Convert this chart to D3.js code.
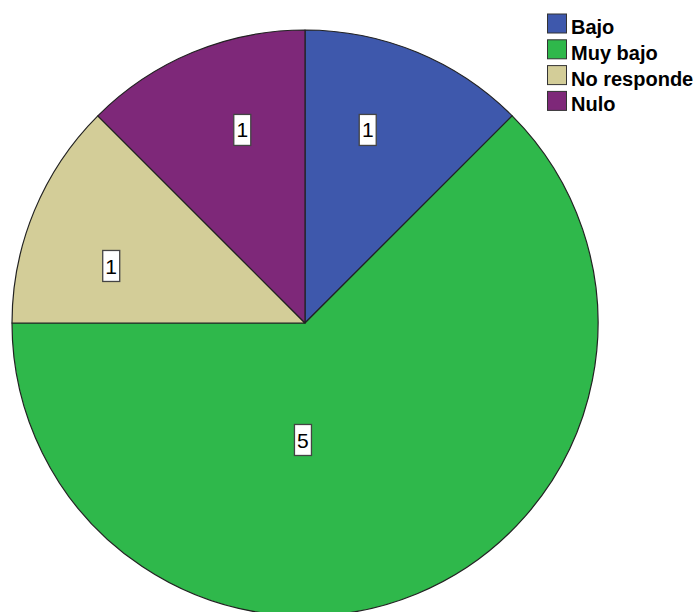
<!DOCTYPE html>
<html>
<head>
<meta charset="utf-8">
<script src="https://cdn.jsdelivr.net/npm/d3@7/dist/d3.min.js"></script>
<style>
  html, body { margin: 0; padding: 0; background: #fff; overflow: hidden; }
  svg { display: block; }
</style>
</head>
<body>
<div id="chart"></div>
<script>
// Counts per category
const categories = ["Bajo", "Muy bajo", "No responde", "Nulo"];
const counts = [1, 5, 1, 1];
const colors = ["#3e58ac", "#2fb84b", "#d3cd98", "#7e2879"];

// Where each count label sits, as (radius, angle in degrees from 12 o'clock)
const labelRadius = [203, 117, 202, 203];
const labelAngle = [18, 181, 286.4, 342];

const width = 697, height = 612;
const cx = 305, cy = 323, R = 293;

const svg = d3.select("#chart").append("svg")
  .attr("width", width).attr("height", height);

const pie = d3.pie().sort(null).value(d => d.value);
const arcs = pie(categories.map((c, i) => ({ name: c, value: counts[i], color: colors[i] })));
const arc = d3.arc().innerRadius(0).outerRadius(R);

const g = svg.append("g").attr("transform", `translate(${cx},${cy})`);

g.selectAll("path.slice")
  .data(arcs)
  .enter().append("path")
  .attr("class", "slice")
  .attr("d", arc)
  .attr("fill", d => d.data.color)
  .attr("stroke", "#222")
  .attr("stroke-width", 1.2)
  .attr("stroke-linejoin", "round");

// Count labels in white boxes
const labels = g.selectAll("g.lbl")
  .data(arcs)
  .enter().append("g")
  .attr("class", "lbl")
  .attr("transform", (d, i) => {
    const a = labelAngle[i] * Math.PI / 180;
    const r = labelRadius[i];
    return `translate(${r * Math.sin(a)},${-r * Math.cos(a)})`;
  });

labels.append("rect")
  .attr("x", -8.5).attr("y", -15.5)
  .attr("width", 17).attr("height", 31)
  .attr("fill", "#fff")
  .attr("stroke", "#444")
  .attr("stroke-width", 1.3);

labels.append("text")
  .attr("text-anchor", "middle")
  .attr("dy", "0.36em")
  .attr("font-family", "Liberation Sans, Arial, sans-serif")
  .attr("font-size", 21)
  .attr("fill", "#000")
  .text(d => d.data.value);

// Legend
const legend = svg.append("g").attr("transform", "translate(547,34)");
const rows = legend.selectAll("g.row")
  .data(categories)
  .enter().append("g")
  .attr("class", "row")
  .attr("transform", (d, i) => `translate(0,${i * 25.8})`);

rows.append("rect")
  .attr("x", 0.5).attr("y", -20)
  .attr("width", 19).attr("height", 19)
  .attr("fill", (d, i) => colors[i])
  .attr("stroke", "#333")
  .attr("stroke-width", 1);

rows.append("text")
  .attr("x", 24).attr("y", 0)
  .attr("font-family", "Liberation Sans, Arial, sans-serif")
  .attr("font-weight", "bold")
  .attr("font-size", 20)
  .attr("fill", "#000")
  .text(d => d);
</script>
</body>
</html>
